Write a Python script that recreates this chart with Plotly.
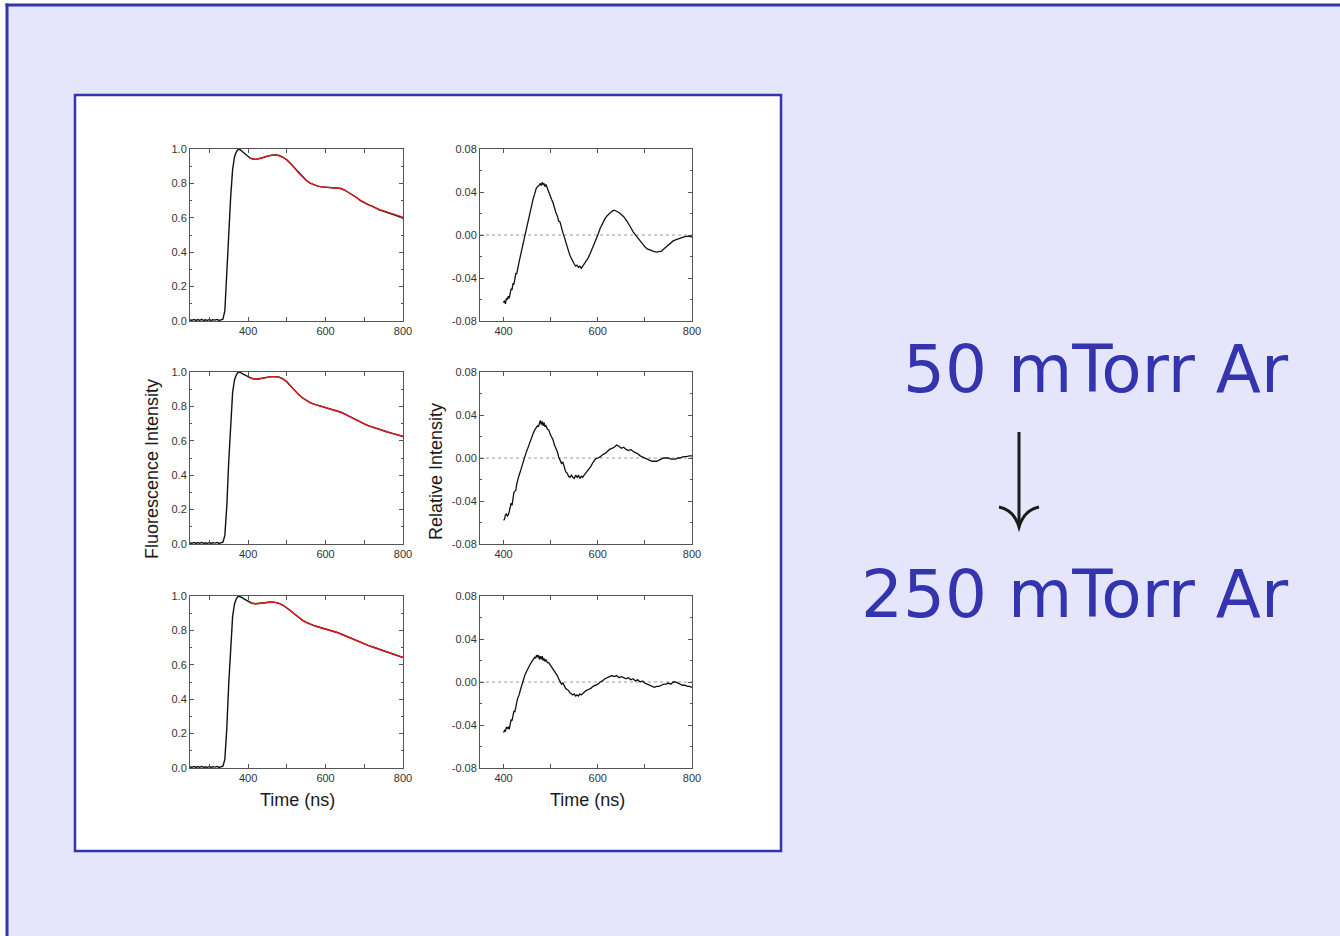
import plotly.graph_objects as go

W, H = 1340, 936

# ---------------- data ----------------
# Fluorescence time grid (ns)
t_fl = [250, 255, 260, 265, 270, 275, 280, 285, 290, 295, 300, 305, 310, 315, 320, 325, 330, 335,
        340, 345, 350, 355, 360, 365, 370, 375, 380, 385, 390, 395, 400, 405, 410, 420, 430, 440,
        450, 460, 470, 480, 490, 500, 510, 520, 530, 540, 550, 560, 570, 580, 590, 600, 610, 620,
        630, 640, 650, 660, 670, 680, 690, 700, 710, 720, 730, 740, 750, 760, 770, 780, 790, 800]

base = [0.006, 0.004, 0.009, 0.003, 0.008, 0.004, 0.010, 0.003, 0.007, 0.004, 0.009, 0.003,
        0.008, 0.005, 0.009, 0.003, 0.007, 0.010]

fl1 = base + [0.06, 0.25, 0.50, 0.72, 0.88, 0.955, 0.985, 1.000, 0.995, 0.985, 0.975, 0.965,
              0.955, 0.948, 0.943, 0.940, 0.944, 0.952, 0.959, 0.964, 0.966, 0.962, 0.952, 0.937,
              0.915, 0.890, 0.862, 0.838, 0.818, 0.802, 0.791, 0.784, 0.780, 0.778, 0.777, 0.776,
              0.775, 0.770, 0.760, 0.747, 0.733, 0.718, 0.700, 0.687, 0.676, 0.668, 0.655, 0.645,
              0.638, 0.631, 0.623, 0.615, 0.607, 0.597]
fl2 = base + [0.05, 0.22, 0.48, 0.72, 0.88, 0.955, 0.985, 1.000, 0.998, 0.990, 0.985, 0.978,
              0.972, 0.966, 0.962, 0.958, 0.960, 0.965, 0.970, 0.973, 0.973, 0.970, 0.960, 0.943,
              0.918, 0.893, 0.870, 0.850, 0.835, 0.822, 0.813, 0.806, 0.800, 0.795, 0.789, 0.782,
              0.775, 0.766, 0.755, 0.743, 0.731, 0.719, 0.708, 0.698, 0.688, 0.680, 0.672, 0.665,
              0.658, 0.651, 0.645, 0.638, 0.632, 0.625]
fl3 = base + [0.05, 0.23, 0.49, 0.72, 0.88, 0.955, 0.985, 1.000, 0.997, 0.990, 0.982, 0.975,
              0.968, 0.962, 0.958, 0.955, 0.957, 0.961, 0.964, 0.965, 0.963, 0.957, 0.946, 0.932,
              0.914, 0.895, 0.877, 0.860, 0.847, 0.836, 0.828, 0.821, 0.815, 0.809, 0.803, 0.796,
              0.788, 0.779, 0.769, 0.759, 0.749, 0.740, 0.731, 0.722, 0.713, 0.705, 0.697, 0.690,
              0.683, 0.676, 0.669, 0.661, 0.653, 0.642]

# Fit curves (red), from 405 ns
t_fit = [405, 410, 420, 430, 440, 450, 460, 470, 480, 490, 500, 510, 520, 530, 540, 550, 560, 570,
         580, 590, 600, 610, 620, 630, 640, 650, 660, 670, 680, 690, 700, 710, 720, 730, 740, 750,
         760, 770, 780, 790, 800]
fit1 = [0.947, 0.943, 0.940, 0.944, 0.952, 0.959, 0.964, 0.966, 0.962, 0.952, 0.937, 0.915, 0.890,
        0.862, 0.838, 0.818, 0.802, 0.791, 0.784, 0.780, 0.778, 0.777, 0.776, 0.775, 0.770, 0.760,
        0.747, 0.733, 0.718, 0.701, 0.688, 0.677, 0.668, 0.656, 0.647, 0.640, 0.633, 0.626, 0.619,
        0.612, 0.604]
fit2 = [0.966, 0.962, 0.958, 0.960, 0.965, 0.970, 0.973, 0.973, 0.970, 0.960, 0.943, 0.918, 0.893,
        0.870, 0.850, 0.835, 0.822, 0.813, 0.806, 0.800, 0.795, 0.789, 0.782, 0.775, 0.766, 0.755,
        0.743, 0.731, 0.719, 0.708, 0.698, 0.688, 0.680, 0.672, 0.665, 0.658, 0.651, 0.645, 0.638,
        0.632, 0.626]
fit3 = [0.962, 0.958, 0.955, 0.957, 0.961, 0.964, 0.965, 0.963, 0.957, 0.946, 0.932, 0.914, 0.895,
        0.877, 0.860, 0.847, 0.836, 0.828, 0.821, 0.815, 0.809, 0.803, 0.796, 0.788, 0.779, 0.769,
        0.759, 0.749, 0.740, 0.731, 0.722, 0.713, 0.705, 0.697, 0.690, 0.683, 0.676, 0.669, 0.661,
        0.653, 0.643]

# Relative intensity (residual) series
t_r1 = [400, 402, 404, 406, 408, 410, 412, 414, 416, 418, 420, 422, 424, 426, 428, 430, 433, 436,
        439, 442, 445, 448, 451, 454, 457, 460, 463, 466, 469, 472, 475, 478, 480, 482, 484, 486,
        488, 490, 493, 496, 499, 502, 505, 508, 511, 514, 517, 520, 523, 526, 529, 532, 535, 538,
        541, 544, 547, 550, 553, 556, 559, 562, 565, 568, 571, 575, 580, 585, 590, 595, 600, 605,
        610, 615, 620, 625, 630, 635, 640, 645, 650, 655, 660, 665, 670, 675, 680, 685, 690, 695,
        700, 705, 710, 715, 720, 725, 730, 735, 740, 745, 750, 755, 760, 765, 770, 775, 780, 785,
        790, 795, 800]
r1 = [-0.063, -0.061, -0.064, -0.059, -0.060, -0.057, -0.059, -0.052, -0.050, -0.051, -0.045,
      -0.046, -0.038, -0.036, -0.036, -0.030, -0.025, -0.019, -0.013, -0.006, 0.000, 0.006, 0.012,
      0.019, 0.024, 0.029, 0.034, 0.038, 0.043, 0.045, 0.046, 0.048, 0.046, 0.049, 0.047, 0.048,
      0.045, 0.047, 0.043, 0.040, 0.037, 0.033, 0.030, 0.025, 0.021, 0.018, 0.013, 0.012, 0.006,
      0.002, -0.002, -0.007, -0.011, -0.015, -0.019, -0.022, -0.025, -0.027, -0.029, -0.028,
      -0.030, -0.029, -0.031, -0.029, -0.028, -0.025, -0.021, -0.016, -0.011, -0.005, 0.000,
      0.006, 0.011, 0.015, 0.018, 0.020, 0.022, 0.023, 0.022, 0.021, 0.019, 0.017, 0.014, 0.011,
      0.007, 0.003, 0.000, -0.003, -0.006, -0.009, -0.011, -0.013, -0.014, -0.015, -0.0155,
      -0.016, -0.0155, -0.015, -0.013, -0.011, -0.009, -0.007, -0.0055, -0.0045, -0.0035,
      -0.0028, -0.0022, -0.0015, -0.0015, -0.0010, -0.0020]

t_r2 = [400, 402, 404, 406, 408, 410, 412, 414, 416, 418, 420, 422, 424, 426, 428, 430, 433, 436,
        439, 442, 445, 448, 451, 454, 457, 460, 463, 466, 469, 472, 474, 476, 478, 480, 482, 484,
        486, 488, 490, 493, 496, 499, 502, 505, 508, 511, 514, 517, 520, 523, 526, 529, 532, 535,
        538, 541, 544, 547, 550, 553, 556, 559, 562, 565, 568, 571, 575, 580, 585, 590, 595, 600,
        605, 610, 615, 620, 625, 630, 635, 640, 645, 650, 655, 660, 665, 670, 675, 680, 685, 690,
        695, 700, 705, 710, 715, 720, 725, 730, 735, 740, 745, 750, 755, 760, 765, 770, 775, 780,
        785, 790, 795, 800]
r2 = [-0.058, -0.057, -0.053, -0.052, -0.054, -0.053, -0.050, -0.044, -0.042, -0.044, -0.037,
      -0.032, -0.031, -0.030, -0.024, -0.020, -0.016, -0.012, -0.007, -0.003, 0.001, 0.005, 0.009,
      0.013, 0.017, 0.020, 0.023, 0.026, 0.028, 0.030, 0.029, 0.032, 0.035, 0.031, 0.034, 0.030,
      0.033, 0.029, 0.030, 0.027, 0.026, 0.022, 0.019, 0.017, 0.012, 0.009, 0.006, 0.001, -0.002,
      -0.005, -0.004, -0.010, -0.013, -0.014, -0.017, -0.018, -0.016, -0.018, -0.019, -0.016,
      -0.018, -0.016, -0.019, -0.017, -0.018, -0.016, -0.014, -0.011, -0.008, -0.004, -0.001,
      0.000, 0.001, 0.003, 0.004, 0.006, 0.008, 0.009, 0.010, 0.012, 0.011, 0.009, 0.010, 0.008,
      0.007, 0.008, 0.006, 0.005, 0.004, 0.002, 0.001, 0.000, -0.001, -0.002, -0.003, -0.003,
      -0.003, -0.002, -0.001, 0.000, 0.000, 0.000, -0.001, -0.001, -0.001, 0.000, 0.000, 0.001,
      0.001, 0.0015, 0.002, 0.002]

t_r3 = [400, 402, 404, 406, 408, 410, 412, 414, 416, 418, 420, 422, 424, 426, 428, 430, 433, 436,
        439, 442, 445, 448, 451, 454, 457, 460, 463, 466, 468, 470, 472, 474, 476, 478, 480, 482,
        484, 486, 488, 490, 493, 496, 499, 502, 505, 508, 511, 514, 517, 520, 523, 526, 529, 532,
        535, 538, 541, 544, 547, 550, 553, 556, 559, 562, 565, 570, 575, 580, 585, 590, 595, 600,
        605, 610, 615, 620, 625, 630, 635, 640, 645, 650, 655, 660, 665, 670, 675, 680, 685, 690,
        695, 700, 705, 710, 715, 720, 725, 730, 735, 740, 745, 750, 755, 760, 765, 770, 775, 780,
        785, 790, 795, 800]
r3 = [-0.047, -0.045, -0.046, -0.042, -0.043, -0.042, -0.044, -0.037, -0.035, -0.036, -0.030,
      -0.027, -0.028, -0.021, -0.019, -0.015, -0.012, -0.007, -0.002, 0.002, 0.006, 0.009, 0.012,
      0.015, 0.017, 0.019, 0.021, 0.023, 0.022, 0.025, 0.023, 0.025, 0.021, 0.024, 0.021, 0.024,
      0.020, 0.022, 0.019, 0.021, 0.018, 0.018, 0.016, 0.014, 0.013, 0.010, 0.008, 0.006, 0.003,
      0.001, -0.002, -0.001, -0.004, -0.006, -0.007, -0.008, -0.010, -0.011, -0.012, -0.011,
      -0.013, -0.012, -0.013, -0.011, -0.012, -0.010, -0.008, -0.007, -0.006, -0.004, -0.003,
      -0.002, 0.000, 0.001, 0.003, 0.004, 0.005, 0.006, 0.005, 0.006, 0.004, 0.005, 0.004, 0.003,
      0.004, 0.002, 0.003, 0.001, 0.002, 0.000, 0.001, -0.001, -0.002, -0.003, -0.004, -0.005,
      -0.004, -0.004, -0.003, -0.002, -0.002, -0.001, -0.002, 0.000, 0.000, -0.001, -0.002,
      -0.003, -0.003, -0.004, -0.004, -0.005]

fl_data = [fl1, fl2, fl3]
fit_data = [fit1, fit2, fit3]
res_t = [t_r1, t_r2, t_r3]
res_data = [r1, r2, r3]

fl_xticks = [300, 400, 500, 600, 700, 800]
fl_xlabels = ["", "400", "", "600", "", "800"]
res_xticks = [400, 500, 600, 700, 800]
res_xlabels = ["400", "", "600", "", "800"]
fl_yticks = [0.0, 0.2, 0.4, 0.6, 0.8, 1.0]
res_yticks = [-0.08, -0.04, 0.0, 0.04, 0.08]

y_titles = ["Fluorescence Intensity", "Relative Intensity"]
x_title = "Time (ns)"
label_top = "50 mTorr Ar"
label_bottom = "250 mTorr Ar"

# ---------------- layout helpers ----------------
BLUE = "#3434AF"
LAV = "#E5E5FB"
AXC = "#555555"
FONT = "Liberation Sans, Arial, sans-serif"


def px(x):
    return x / W


def py(y):
    return 1 - y / H


col_px = [(190, 403), (480, 692)]
row_px = [(149, 321), (372, 544), (596, 768)]

fig = go.Figure()
layout = dict(
    width=W, height=H, margin=dict(l=0, r=0, t=0, b=0, pad=0, autoexpand=False),
    paper_bgcolor="white", plot_bgcolor="white", showlegend=False,
    font=dict(family=FONT, color="#333333"),
)

for r in range(3):
    for c in range(2):
        i = r * 2 + c + 1
        xa = "xaxis" if i == 1 else f"xaxis{i}"
        ya = "yaxis" if i == 1 else f"yaxis{i}"
        xr = "x" if i == 1 else f"x{i}"
        yr = "y" if i == 1 else f"y{i}"
        common = dict(showline=True, linecolor=AXC, linewidth=1, mirror="allticks",
                      ticks="inside", ticklen=4, tickcolor=AXC, showgrid=False, zeroline=False,
                      automargin=False,
                      tickfont=dict(family=FONT, size=11, color="#333333"), fixedrange=True)
        if c == 0:
            layout[xa] = dict(common, domain=[px(col_px[c][0]), px(col_px[c][1])], anchor=yr,
                              range=[250, 800], tickmode="array", tickvals=fl_xticks,
                              ticktext=fl_xlabels)
            layout[ya] = dict(common, domain=[py(row_px[r][1]), py(row_px[r][0])], anchor=xr,
                              range=[0, 1], tickmode="array", tickvals=fl_yticks,
                              ticktext=[f"{v:.1f}" for v in fl_yticks],
                              minor=dict(ticks="inside", ticklen=2, tickcolor=AXC, dtick=0.1,
                                         tick0=0))
            fig.add_trace(go.Scatter(x=t_fl, y=fl_data[r], mode="lines", xaxis=xr, yaxis=yr,
                                     line=dict(color="#111111", width=1.4)))
            fig.add_trace(go.Scatter(x=t_fit, y=fit_data[r], mode="lines", xaxis=xr, yaxis=yr,
                                     line=dict(color="#E0191E", width=1.4)))
        else:
            layout[xa] = dict(common, domain=[px(col_px[c][0]), px(col_px[c][1])], anchor=yr,
                              range=[350, 800], tickmode="array", tickvals=res_xticks,
                              ticktext=res_xlabels)
            layout[ya] = dict(common, domain=[py(row_px[r][1]), py(row_px[r][0])], anchor=xr,
                              range=[-0.08, 0.08], tickmode="array", tickvals=res_yticks,
                              ticktext=[f"{v:.2f}" for v in res_yticks],
                              minor=dict(ticks="inside", ticklen=2, tickcolor=AXC, dtick=0.02,
                                         tick0=0))
            fig.add_trace(go.Scatter(x=res_t[r], y=res_data[r], mode="lines", xaxis=xr,
                                     yaxis=yr, line=dict(color="#111111", width=1.3)))

shapes = [
    # lavender background (fill only, kept inside the paper)
    dict(type="rect", xref="paper", yref="paper", x0=px(7), y0=0, x1=1, y1=py(5),
         fillcolor=LAV, line=dict(width=0), layer="below"),
    # blue frame: top and left edges
    dict(type="line", xref="paper", yref="paper", x0=px(5.5), x1=1, y0=py(5), y1=py(5),
         line=dict(color=BLUE, width=3), layer="below"),
    dict(type="line", xref="paper", yref="paper", x0=px(7), x1=px(7), y0=0, y1=py(3.5),
         line=dict(color=BLUE, width=3), layer="below"),
    # white inner panel
    dict(type="rect", xref="paper", yref="paper", x0=px(75), y0=py(95), x1=px(781), y1=py(851),
         fillcolor="white", line=dict(color=BLUE, width=2.5), layer="below"),
]
# dotted zero lines in residual panels
for r in range(3):
    i = r * 2 + 2
    shapes.append(dict(type="line", xref=f"x{i} domain", yref=f"y{i}", x0=0, x1=1, y0=0, y1=0,
                       line=dict(color="#9a9a9a", width=1, dash="dot"), layer="below"))

# arrow
shapes.append(dict(type="line", xref="paper", yref="paper", x0=px(1019), x1=px(1019),
                   y0=py(432), y1=py(526), line=dict(color="#1a1a1a", width=3)))
shapes.append(dict(type="path", xref="paper", yref="paper",
                   path=(f"M {px(999)} {py(507)} Q {px(1014)} {py(510)} {px(1019)} {py(527)} "
                         f"Q {px(1024)} {py(510)} {px(1039)} {py(507)}"),
                   line=dict(color="#1a1a1a", width=3)))
layout["shapes"] = shapes

ann = [
    dict(text=y_titles[0], x=px(152), y=py(469), xref="paper", yref="paper", textangle=-90,
         showarrow=False, font=dict(family=FONT, size=18, color="#1a1a1a"),
         xanchor="center", yanchor="middle"),
    dict(text=y_titles[1], x=px(436), y=py(471), xref="paper", yref="paper", textangle=-90,
         showarrow=False, font=dict(family=FONT, size=18, color="#1a1a1a"),
         xanchor="center", yanchor="middle"),
    dict(text=x_title, x=px(297), y=py(800), xref="paper", yref="paper", showarrow=False,
         font=dict(family=FONT, size=18, color="#1a1a1a"), xanchor="center", yanchor="middle"),
    dict(text=x_title, x=px(587), y=py(800), xref="paper", yref="paper", showarrow=False,
         font=dict(family=FONT, size=18, color="#1a1a1a"), xanchor="center", yanchor="middle"),
    dict(text=label_top, x=px(1291), y=py(370), xref="paper", yref="paper", showarrow=False,
         font=dict(family="DejaVu Sans", size=66, color=BLUE), xanchor="right",
         yanchor="middle"),
    dict(text=label_bottom, x=px(1291), y=py(594), xref="paper", yref="paper", showarrow=False,
         font=dict(family="DejaVu Sans", size=66, color=BLUE), xanchor="right",
         yanchor="middle"),
]
layout["annotations"] = ann

fig.update_layout(**layout)
fig.write_html(
    "out.html",
    config={"displayModeBar": False, "staticPlot": True},
    post_script=(
        "document.documentElement.style.margin='0';"
        "document.documentElement.style.padding='0';"
        "document.documentElement.style.overflow='hidden';"
        "document.body.style.margin='0';"
        "document.body.style.padding='0';"
        "document.body.style.overflow='hidden';"
        "var gd=document.getElementById('{plot_id}');"
        "gd.style.position='fixed';gd.style.left='0px';gd.style.top='0px';"
    ),
)
